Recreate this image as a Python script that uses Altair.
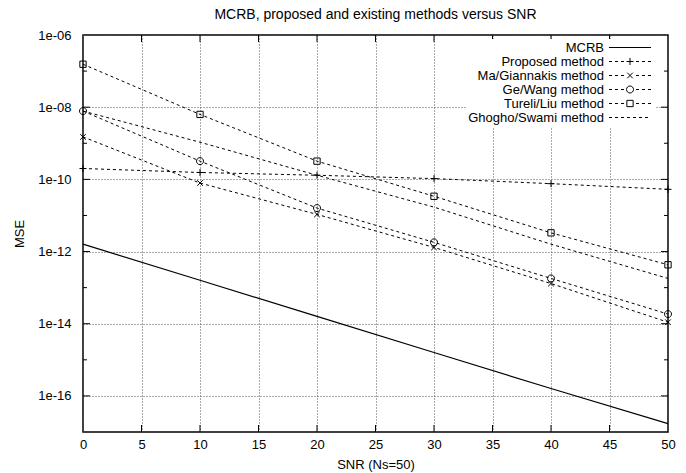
import altair as alt
import pandas as pd

# SNR points (dB) at which every estimator was evaluated
snr = [0, 10, 20, 30, 40, 50]

series_names = [
    "MCRB",
    "Proposed method",
    "Ma/Giannakis method",
    "Ge/Wang method",
    "Tureli/Liu method",
    "Ghogho/Swami method",
]

# MSE values per method
mcrb = [1.6e-12, 1.6e-13, 1.6e-14, 1.6e-15, 1.6e-16, 1.7e-17]
proposed = [2.0e-10, 1.55e-10, 1.3e-10, 1.05e-10, 7.6e-11, 5.3e-11]
ma_giannakis = [1.5e-9, 7.9e-11, 1.07e-11, 1.3e-12, 1.3e-13, 1.1e-14]
ge_wang = [7.8e-9, 3.2e-10, 1.6e-11, 1.8e-12, 1.8e-13, 1.85e-14]
tureli_liu = [1.55e-7, 6.3e-9, 3.2e-10, 3.4e-11, 3.3e-12, 4.3e-13]
ghogho_swami = [7.8e-9, 1.07e-9, 1.3e-10, 1.7e-11, 1.6e-12, 1.8e-13]

series_values = [mcrb, proposed, ma_giannakis, ge_wang, tureli_liu, ghogho_swami]

# axis ticks
x_ticks = list(range(0, 51, 5))
y_label_exps = [6, 8, 10, 12, 14, 16]
y_all_exps = list(range(7, 17))

rows = []
for name, vals in zip(series_names, series_values):
    for s, v in zip(snr, vals):
        rows.append({"series": name, "snr": s, "mse": v})
df = pd.DataFrame(rows)

FONT = "Liberation Sans"
W, H = 585, 397
X_MIN, X_MAX = 0, 50
Y_MIN, Y_MAX = 1e-17, 1e-6
PX_PER_DECADE = H / 11.0

# gnuplot-like point symbols (unit paths, scaled by the symbol size)
plus_path = "M-1,0H1M0,-1V1"
cross_path = "M-0.8,-0.8L0.8,0.8M-0.8,0.8L0.8,-0.8"
circle_path = "M1,0A1,1 0 1,1 -1,0A1,1 0 1,1 1,0"
square_path = "M-0.9,-0.9H0.9V0.9H-0.9Z"

marker_series = series_names[1:5]
marker_paths = [plus_path, cross_path, circle_path, square_path]


def dash_path(segments):
    return "".join(f"M{a:.2f},0H{b:.2f}" for a, b in segments)


dash_on = 3 / 3.5
side_dashes = [(-6, -6 + dash_on), (-6 + 2 * dash_on, -6 + 3 * dash_on), (-6 + 4 * dash_on, -6 + 5 * dash_on)]
mirror = [(-b, -a) for a, b in side_dashes]
with_marker = dash_path(side_dashes + mirror)
plain_dashes = dash_path([(-6 + 2 * k * dash_on, -6 + (2 * k + 1) * dash_on) for k in range(7)])

legend_paths = [
    "M-6,0H6",
    with_marker + plus_path,
    with_marker + cross_path,
    with_marker + circle_path,
    with_marker + square_path,
    plain_dashes,
]

x_scale = alt.Scale(domain=[X_MIN, X_MAX], nice=False, zero=False)
y_scale = alt.Scale(type="log", domain=[Y_MIN, Y_MAX], nice=False)

axis_style = dict(
    labelFont=FONT, titleFont=FONT, labelFontSize=13, titleFontSize=13,
    titleFontWeight="normal", labelColor="black", titleColor="black",
    gridColor="#555555", gridDash=[1, 2], gridWidth=1, gridOpacity=1,
    grid=True, ticks=False, tickSize=0, domain=False, labelFlush=False,
)

x_axis = alt.Axis(
    values=x_ticks, title="SNR (Ns=50)", labelPadding=6, titlePadding=7, **axis_style
)
label_expr = (
    "'1e-' + (round(-log(datum.value)/LN10) < 10 ? '0' : '') + round(-log(datum.value)/LN10)"
)
y_axis = alt.Axis(
    values=[10.0 ** -e for e in y_label_exps], title="MSE", labelPadding=12,
    titlePadding=11, labelExpr=label_expr, **axis_style
)


def xenc(field):
    return alt.X(f"{field}:Q", scale=x_scale, axis=x_axis)


def yenc(field):
    return alt.Y(f"{field}:Q", scale=y_scale, axis=y_axis)


# inward tick marks on all four sides of the frame
major_len, minor_len = 7, 4
tick_rows = []
for t in x_ticks[1:-1]:
    dy = 10 ** (major_len / PX_PER_DECADE)
    tick_rows.append({"x": t, "x2": t, "y": Y_MIN, "y2": Y_MIN * dy})
    tick_rows.append({"x": t, "x2": t, "y": Y_MAX / dy, "y2": Y_MAX})
for e in y_all_exps:
    L = major_len if e % 2 == 0 else minor_len
    dx = L * (X_MAX - X_MIN) / W
    v = 10.0 ** -e
    tick_rows.append({"x": X_MIN, "x2": X_MIN + dx, "y": v, "y2": v})
    tick_rows.append({"x": X_MAX - dx, "x2": X_MAX, "y": v, "y2": v})
ticks_df = pd.DataFrame(tick_rows)

base = alt.Chart(df)

ticks = alt.Chart(ticks_df).mark_rule(color="black", strokeWidth=1).encode(
    x=xenc("x"), x2="x2", y=yenc("y"), y2="y2"
)

mcrb_line = base.transform_filter(alt.datum.series == "MCRB").mark_line(
    color="black", strokeWidth=1.2
).encode(x=xenc("snr"), y=yenc("mse"))

dashed_lines = base.transform_filter(alt.datum.series != "MCRB").mark_line(
    color="black", strokeWidth=1, strokeDash=[3, 3]
).encode(x=xenc("snr"), y=yenc("mse"), detail="series:N")

points = base.transform_filter(
    alt.FieldOneOfPredicate(field="series", oneOf=marker_series)
).mark_point(filled=False, size=49, strokeWidth=1, color="black", opacity=1).encode(
    x=xenc("snr"),
    y=yenc("mse"),
    shape=alt.Shape("series:N", scale=alt.Scale(domain=marker_series, range=marker_paths), legend=None),
)

# key: label right-aligned, line sample to its right (symbol offset pushes samples right)
key = base.transform_filter("false").mark_point(
    filled=False, size=49, strokeWidth=1, color="black", opacity=1
).encode(
    x=xenc("snr"),
    y=yenc("mse"),
    shape=alt.Shape(
        "series:N",
        scale=alt.Scale(domain=series_names, range=legend_paths),
        legend=alt.Legend(
            title=None, orient="none", legendX=384, legendY=4, direction="vertical",
            labelAlign="right", labelOffset={"expr": "-32.5"}, symbolOffset=154.5,
            labelFont=FONT, labelFontSize=13, labelColor="black", labelLimit=300,
            symbolSize=49, symbolStrokeWidth=1, symbolStrokeColor="black",
            symbolFillColor="transparent", rowPadding=0, padding=2,
            fillColor="white",
        ),
    ),
)

chart = (
    alt.layer(ticks, mcrb_line, dashed_lines, points, key)
    .resolve_scale(shape="independent")
    .properties(
        width=W,
        height=H,
        background="white",
        autosize=alt.AutoSizeParams(type="none"),
        padding={"left": 83, "top": 35, "right": 18, "bottom": 41},
        title=alt.Title(
            "MCRB, proposed and existing methods versus SNR",
            font=FONT, fontSize=14, fontWeight="normal", color="black", offset=7,
        ),
    )
    .configure_view(stroke="black", strokeWidth=1.5)
)

chart.save("out.html", embed_options={"renderer": "svg", "actions": False})
